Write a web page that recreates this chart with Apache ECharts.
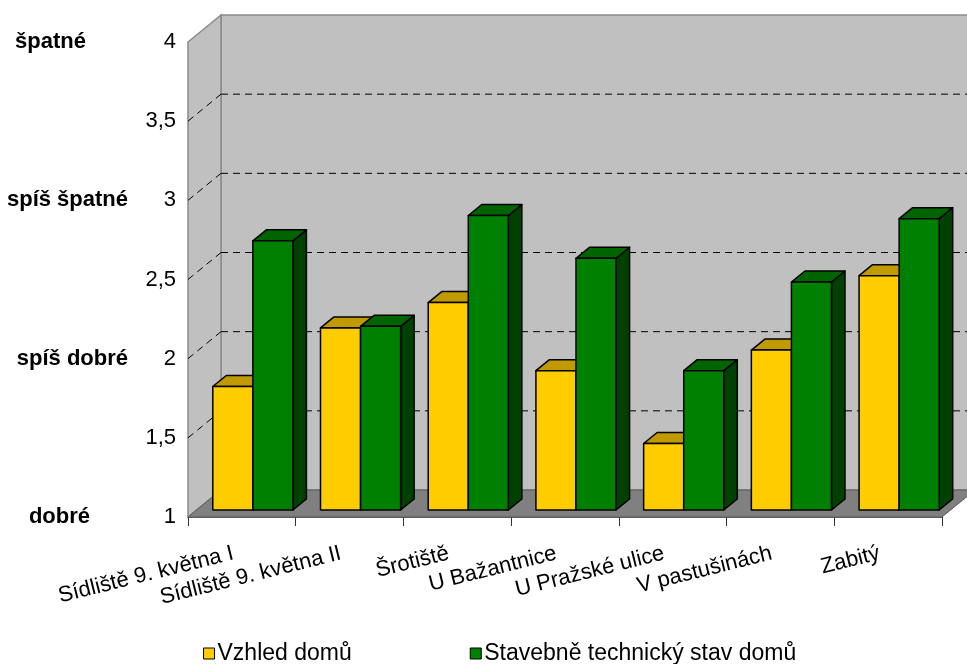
<!DOCTYPE html>
<html>
<head>
<meta charset="utf-8">
<script src="https://cdn.jsdelivr.net/npm/echarts@6/dist/echarts.min.js"></script>
<style>
html,body{margin:0;padding:0;background:#fff;}
#chart{width:967px;height:664px;}
</style>
</head>
<body>
<div id="chart"></div>
<script>
const categories = ['Sídliště 9. května I','Sídliště 9. května II','Šrotiště','U Bažantnice','U Pražské ulice','V pastušinách','Zabitý'];
const seriesNames = ['Vzhled domů','Stavebně technický stav domů'];
const vzhled = [1.78, 2.15, 2.31, 1.88, 1.42, 2.01, 2.48];
const stav = [2.70, 2.16, 2.86, 2.59, 1.88, 2.44, 2.84];
const yMin = 1, yMax = 4, yStep = 0.5;
const gridValues = [1.5, 2, 2.5, 3, 3.5];
const scaleNames = ['dobré', 'spíš dobré', 'spíš špatné', 'špatné'];

const FONT = '"Liberation Sans", Arial, sans-serif';
// 3D geometry (pixels)
const WALL_DX = 33, WALL_DY = -27;
const BAR_OFF_X = 11, BAR_OFF_Y = -7;
const BAR_DX = 13.5, BAR_DY = -11;
const BAR_FRAC = 0.372;

const chart = echarts.init(document.getElementById('chart'), null, {renderer: 'canvas'});

function wallsRender(params, api) {
  const cs = params.coordSys;
  const x0 = cs.x, y0 = cs.y, x1 = cs.x + cs.width, y1 = cs.y + cs.height;
  return {
    type: 'group',
    children: [
      {type: 'polygon', shape: {points: [[x0 + WALL_DX, y0 + WALL_DY], [x1 + WALL_DX, y0 + WALL_DY], [x1 + WALL_DX, y1 + WALL_DY], [x0 + WALL_DX, y1 + WALL_DY]]},
       style: {fill: '#c0c0c0', stroke: '#8a8a8a', lineWidth: 1.5}},
      {type: 'polygon', shape: {points: [[x0, y0], [x0 + WALL_DX, y0 + WALL_DY], [x0 + WALL_DX, y1 + WALL_DY], [x0, y1]]},
       style: {fill: '#c0c0c0', stroke: '#8a8a8a', lineWidth: 1.5}},
      {type: 'polygon', shape: {points: [[x0, y1], [x0 + WALL_DX, y1 + WALL_DY], [x1 + WALL_DX, y1 + WALL_DY], [x1, y1]]},
       style: {fill: '#808080', stroke: '#5a5a5a', lineWidth: 1}}
    ]
  };
}

function gridRender(params, api) {
  const cs = params.coordSys;
  const p = api.coord([0, api.value(1)]);
  const y = p[1];
  const x0 = cs.x, x1 = cs.x + cs.width;
  const st = {stroke: '#000', lineWidth: 1, lineDash: [7, 5], fill: null};
  return {
    type: 'group',
    children: [
      {type: 'polyline', shape: {points: [[x0 + WALL_DX, y + WALL_DY], [x1 + WALL_DX, y + WALL_DY]]}, style: st},
      {type: 'polyline', shape: {points: [[x0, y], [x0 + WALL_DX, y + WALL_DY]]}, style: st}
    ]
  };
}

function makeBarRender(side, cFront, cTop, cSide) {
  return function (params, api) {
    const cat = api.value(0);
    const base = api.coord([cat, yMin]);
    const top = api.coord([cat, api.value(1)]);
    const catW = api.size([1, 0])[0];
    const bw = catW * BAR_FRAC;
    const xl = (side === 0 ? base[0] - bw : base[0]) + BAR_OFF_X;
    const xr = xl + bw;
    const yt = top[1] + BAR_OFF_Y;
    const yb = base[1] + BAR_OFF_Y;
    const ln = {stroke: '#000', lineWidth: 1.5, lineJoin: 'round'};
    return {
      type: 'group',
      children: [
        {type: 'polygon', shape: {points: [[xr, yt], [xr + BAR_DX, yt + BAR_DY], [xr + BAR_DX, yb + BAR_DY], [xr, yb]]},
         style: Object.assign({fill: cSide}, ln)},
        {type: 'polygon', shape: {points: [[xl, yt], [xr, yt], [xr + BAR_DX, yt + BAR_DY], [xl + BAR_DX, yt + BAR_DY]]},
         style: Object.assign({fill: cTop}, ln)},
        {type: 'rect', shape: {x: xl, y: yt, width: bw, height: yb - yt},
         style: Object.assign({fill: cFront}, ln)}
      ]
    };
  };
}

const option = {
  backgroundColor: '#ffffff',
  animation: false,
  grid: {left: 188, right: 25, top: 42, bottom: 147, containLabel: false},
  legend: {
    left: 198, top: 637,
    itemWidth: 11, itemHeight: 11, itemGap: 118,
    icon: 'rect',
    textStyle: {fontFamily: FONT, fontSize: 23, color: '#000', padding: [0, 0, 6, -2]},
    data: [
      {name: seriesNames[0], itemStyle: {color: '#FFCC00', borderColor: '#000', borderWidth: 1}},
      {name: seriesNames[1], itemStyle: {color: '#008000', borderColor: '#000', borderWidth: 1}}
    ]
  },
  xAxis: {
    type: 'category',
    data: categories,
    axisLine: {show: true, lineStyle: {color: '#333', width: 1.5}},
    axisTick: {show: true, length: 9, lineStyle: {color: '#333'}},
    axisLabel: {
      interval: 0, rotate: 14, margin: 34,
      fontFamily: FONT, fontSize: 22, color: '#000',
      padding: [0, 9, 0, 0]
    },
    splitLine: {show: false}
  },
  yAxis: [
    {
      type: 'value', min: yMin, max: yMax, interval: yStep,
      axisLine: {show: false},
      axisTick: {show: false},
      splitLine: {show: false},
      axisLabel: {
        margin: 12, fontFamily: FONT, fontSize: 22, color: '#000',
        formatter: v => String(v).replace('.', ',')
      }
    },
    {
      type: 'value', min: yMin, max: yMax, interval: 1, position: 'left',
      axisLine: {show: false},
      axisTick: {show: false},
      splitLine: {show: false},
      axisLabel: {
        margin: 60,
        formatter: v => {
          const i = Math.round(v) - 1;
          return '{s' + i + '|' + scaleNames[i] + '}';
        },
        rich: {
          s0: {fontFamily: FONT, fontSize: 22, fontWeight: 'bold', color: '#000', padding: [0, 38, 0, 0]},
          s1: {fontFamily: FONT, fontSize: 22, fontWeight: 'bold', color: '#000', padding: [0, 0, 0, 0]},
          s2: {fontFamily: FONT, fontSize: 22, fontWeight: 'bold', color: '#000', padding: [0, 0, 0, 0]},
          s3: {fontFamily: FONT, fontSize: 22, fontWeight: 'bold', color: '#000', padding: [0, 42, 0, 0]}
        }
      }
    }
  ],
  series: [
    {
      type: 'custom', name: 'walls', z: 1, silent: true,
      renderItem: wallsRender,
      data: [[0, yMin]]
    },
    {
      type: 'custom', name: 'grid', z: 2, silent: true,
      renderItem: gridRender,
      data: gridValues.map(v => [0, v])
    },
    {
      type: 'custom', name: seriesNames[0], z: 3,
      itemStyle: {color: '#FFCC00'},
      renderItem: makeBarRender(0, '#FFCC00', '#C09A00', '#B08C00'),
      data: vzhled.map((v, i) => [i, v])
    },
    {
      type: 'custom', name: seriesNames[1], z: 4,
      itemStyle: {color: '#008000'},
      renderItem: makeBarRender(1, '#008000', '#006400', '#004000'),
      data: stav.map((v, i) => [i, v])
    }
  ]
};
chart.setOption(option);
</script>
</body>
</html>
